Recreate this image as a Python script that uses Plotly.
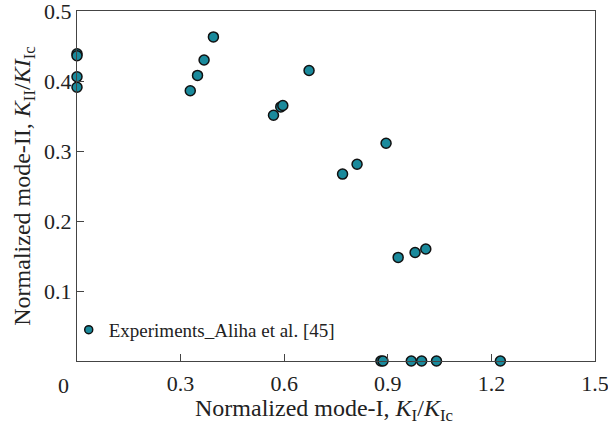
import plotly.graph_objects as go

# Data
k1 = [0.0, 0.0, 0.0, 0.0,
      0.328, 0.349, 0.368, 0.395,
      0.569, 0.590, 0.596, 0.672,
      0.769, 0.811, 0.895,
      0.930, 0.979, 1.010,
      0.880, 0.886, 0.968, 0.998, 1.041, 1.226]
k2 = [0.439, 0.436, 0.406, 0.391,
      0.386, 0.408, 0.430, 0.463,
      0.351, 0.363, 0.365, 0.415,
      0.267, 0.281, 0.311,
      0.148, 0.155, 0.160,
      0.0, 0.0, 0.0, 0.0, 0.0, 0.0]

x_ticks = [0.3, 0.6, 0.9, 1.2, 1.5]
y_ticks = [0.1, 0.2, 0.3, 0.4, 0.5]
legend_name = "Experiments_Aliha et al. [45]"
x_title = "Normalized mode-I, <i>K</i><sub>I</sub>/<i>K</i><sub>Ic</sub>"
y_title = "Normalized mode-II, <i>K</i><sub>II</sub>/<i>KI</i><sub>Ic</sub>"

FONT = "Liberation Serif"
TEAL = "#1a8a9c"
AX = "#444444"
TXT = "#222222"

fig = go.Figure()
fig.add_trace(go.Scatter(
    x=k1, y=k2, mode="markers", showlegend=False, cliponaxis=False,
    marker=dict(size=10, color=TEAL, line=dict(color="#111111", width=1.5)),
))
fig.add_trace(go.Scatter(
    x=[None], y=[None], mode="markers", name=legend_name, showlegend=True,
    marker=dict(size=8, color=TEAL, line=dict(color="#111111", width=1.5)),
))

fig.update_layout(
    width=608, height=423,
    margin=dict(l=77, r=13, t=11, b=62),
    paper_bgcolor="white", plot_bgcolor="white",
    font=dict(family=FONT, size=22, color=TXT),
    showlegend=True,
    legend=dict(x=-0.016, y=0.089, xanchor="left", yanchor="middle",
                bgcolor="rgba(0,0,0,0)", font=dict(size=19, family=FONT, color=TXT),
                itemwidth=30, tracegroupgap=0),
    xaxis=dict(
        range=[0, 1.5], tickvals=x_ticks, ticktext=["0.3", "0.6", "0.9", "1.2", "1.5"],
        tickfont=dict(family=FONT, size=22, color=TXT), ticklabeloverflow="allow",
        ticklabelstandoff=2, automargin=False,
        ticks="inside", ticklen=7, tickwidth=1, tickcolor=AX,
        showline=True, linecolor=AX, linewidth=1.3, mirror=True,
        showgrid=False, zeroline=False,
    ),
    yaxis=dict(
        range=[0, 0.5], tickvals=y_ticks, ticktext=["0.1", "0.2", "0.3", "0.4", "0.5"],
        tickfont=dict(family=FONT, size=22, color=TXT), ticklabeloverflow="allow",
        automargin=False,
        ticks="inside", ticklen=7, tickwidth=1, tickcolor=AX,
        showline=True, linecolor=AX, linewidth=1.3, mirror=True,
        showgrid=False, zeroline=False,
        title=dict(text=y_title, standoff=6, font=dict(size=24, family=FONT, color=TXT)),
    ),
    annotations=[
        dict(text="0", x=0, y=0, xref="x", yref="y", showarrow=False,
             xshift=-14, yshift=-24, font=dict(size=22, family=FONT, color=TXT)),
        dict(text=x_title, x=0.477, y=-0.139, xref="paper", yref="paper",
             xanchor="center", yanchor="middle", showarrow=False,
             font=dict(size=24, family=FONT, color=TXT)),
    ],
)

fig.write_html("out.html")
